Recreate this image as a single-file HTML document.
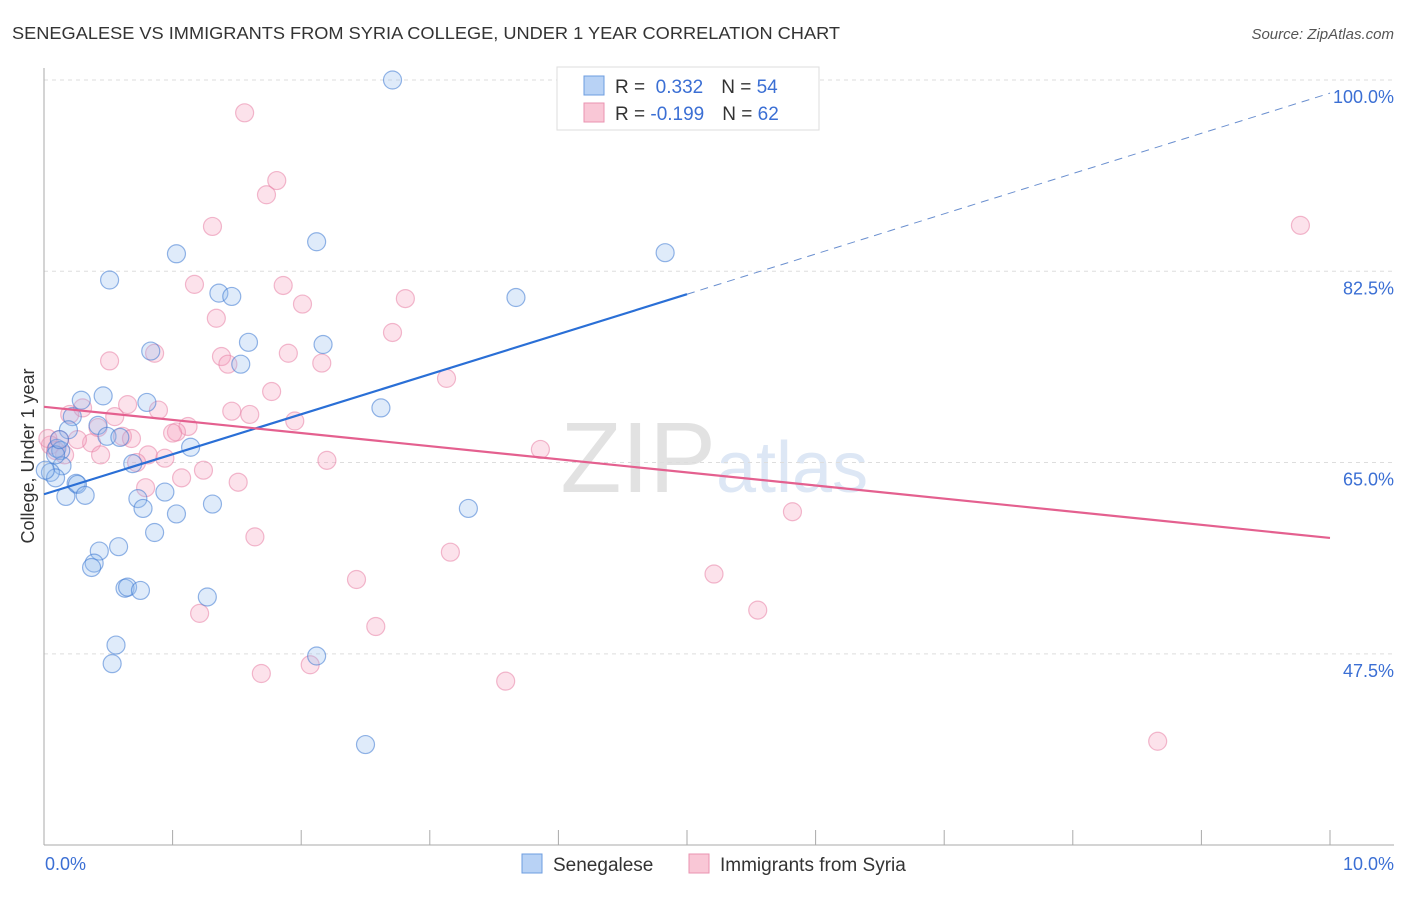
<!DOCTYPE html>
<html><head><meta charset="utf-8"><style>
body{margin:0;background:#fff;font-family:"Liberation Sans",sans-serif;}
svg text{font-family:"Liberation Sans",sans-serif;}
</style></head><body>
<svg width="1406" height="892" xmlns="http://www.w3.org/2000/svg">
<text x="12" y="39" font-size="17.5" fill="#333" textLength="828" lengthAdjust="spacingAndGlyphs">SENEGALESE VS IMMIGRANTS FROM SYRIA COLLEGE, UNDER 1 YEAR CORRELATION CHART</text>
<text x="1394" y="39" font-size="15" fill="#555" font-style="italic" text-anchor="end">Source: ZipAtlas.com</text>
<text x="716" y="492" font-size="100" fill="#e2e2e2" text-anchor="end" font-family="Liberation Serif">ZIP</text>
<text x="716" y="492" font-size="72" fill="#dde7f5">atlas</text>
<g id="grid"></g>
<g id="axes"></g>
<g id="pts"></g>
<g id="lines"></g>
<text transform="translate(34,456) rotate(-90)" font-size="18" fill="#333" text-anchor="middle">College, Under 1 year</text>
<text x="45" y="870" font-size="18" fill="#3b6fd4">0.0%</text>
<text x="1394" y="870" font-size="18" fill="#3b6fd4" text-anchor="end">10.0%</text>
<g>
<rect x="557" y="67" width="262" height="63" fill="#fff" stroke="#ddd"/>
<rect x="584" y="76" width="20" height="19" fill="#b8d2f5" stroke="#6d9de0"/>
<rect x="584" y="103" width="20" height="19" fill="#f9c7d6" stroke="#ea93b0"/>
<text x="615" y="93" font-size="19" fill="#333">R = <tspan fill="#3b6fd4">&#160;0.332</tspan><tspan dx="18">N = </tspan><tspan fill="#3b6fd4">54</tspan></text>
<text x="615" y="120" font-size="19" fill="#333">R = <tspan fill="#3b6fd4">-0.199</tspan><tspan dx="18">N = </tspan><tspan fill="#3b6fd4">62</tspan></text>
</g>
<g>
<rect x="522" y="854" width="20" height="19" fill="#b8d2f5" stroke="#6d9de0"/>
<text x="553" y="871" font-size="19" fill="#333">Senegalese</text>
<rect x="689" y="854" width="20" height="19" fill="#f9c7d6" stroke="#ea93b0"/>
<text x="720" y="871" font-size="19" fill="#333">Immigrants from Syria</text>
</g>
</svg>
<script>
const yTicks=[100,82.5,65,47.5];
const yTickLabels=["100.0%","82.5%","65.0%","47.5%"];
const xTicks=[0,1,2,3,4,5,6,7,8,9,10];
const blueX=[2.71,2.12,1.03,4.83,0.51,1.36,1.46,3.67,1.59,2.17,0.83,1.53,2.62,0.46,0.80,0.29,0.22,0.19,0.42,0.49,0.59,1.14,0.10,0.13,0.69,0.14,0.05,0.09,0.25,0.26,0.17,0.32,0.94,0.73,0.77,1.31,1.03,3.30,0.86,0.43,0.58,0.39,0.37,0.63,0.65,0.75,1.27,0.56,0.53,2.12,2.50,0.01,0.09,0.12];
const blueY=[100.0,85.2,84.1,84.2,81.7,80.5,80.2,80.1,76.0,75.8,75.2,74.0,70.0,71.1,70.5,70.7,69.2,68.0,68.4,67.4,67.3,66.4,66.3,66.1,64.9,64.7,64.1,63.6,63.1,63.0,61.9,62.0,62.3,61.7,60.8,61.2,60.3,60.8,58.6,56.9,57.3,55.8,55.4,53.5,53.6,53.3,52.7,48.3,46.6,47.3,39.2,64.3,65.7,67.1];
const pinkX=[1.56,1.81,1.73,1.31,1.17,1.86,2.01,2.81,1.34,2.71,0.51,0.86,1.38,1.90,1.43,2.16,3.13,1.77,0.20,0.30,0.65,0.89,0.55,1.46,1.60,1.95,1.12,0.42,1.03,1.00,0.61,0.68,0.37,0.12,0.05,0.16,0.09,0.81,0.72,0.94,1.24,1.07,1.51,0.79,3.86,2.20,5.82,1.64,3.16,2.43,5.21,5.55,2.58,1.21,1.69,2.07,3.59,8.66,9.77,0.26,0.03,0.44];
const pinkY=[97.0,90.8,89.5,86.6,81.3,81.2,79.5,80.0,78.2,76.9,74.3,75.0,74.7,75.0,74.0,74.1,72.7,71.5,69.4,70.0,70.3,69.8,69.2,69.7,69.4,68.8,68.3,68.2,67.8,67.7,67.4,67.2,66.8,67.1,66.6,65.7,66.1,65.7,65.0,65.4,64.3,63.6,63.2,62.7,66.2,65.2,60.5,58.2,56.8,54.3,54.8,51.5,50.0,51.2,45.7,46.5,45.0,39.5,86.7,67.1,67.2,65.7];
const blueFit=[62.1,80.4,98.8];
const pinkFit=[70.1,58.1];
const NS="http://www.w3.org/2000/svg";
const X=v=>44+v*128.6, Y=v=>80+(100-v)*10.93;
function mk(t,a,p){const e=document.createElementNS(NS,t);for(const k in a)e.setAttribute(k,a[k]);p.appendChild(e);return e;}
const grid=document.getElementById('grid');
yTicks.forEach((t,i)=>{
 const l=mk('line',{x1:44,x2:1394,y1:Y(t),y2:Y(t),stroke:'#ddd','stroke-dasharray':'4,4'},grid);
 
 
 const tx=mk('text',{x:1394,y:Y(t)+23,'font-size':18,fill:'#3b6fd4','text-anchor':'end'},grid);
 tx.textContent=yTickLabels[i];
 
 
});
const ax=document.getElementById('axes');
const a1=mk('line',{x1:44,x2:44,y1:68,y2:845,stroke:'#aaa'},ax);


const a2=mk('line',{x1:44,x2:1394,y1:845,y2:845,stroke:'#aaa'},ax);


xTicks.forEach(t=>{const l=mk('line',{x1:X(t),x2:X(t),y1:830,y2:845,stroke:'#aaa'},ax);
 
 });
const pts=document.getElementById('pts');
pinkX.forEach((x,i)=>{const c=mk('circle',{cx:X(x),cy:Y(pinkY[i]),r:9,fill:'rgba(244,160,188,0.3)',stroke:'rgba(232,130,165,0.55)','stroke-width':1.2},pts);
 
 });
blueX.forEach((x,i)=>{const c=mk('circle',{cx:X(x),cy:Y(blueY[i]),r:9,fill:'rgba(150,190,240,0.3)',stroke:'rgba(60,120,210,0.55)','stroke-width':1.2},pts);
 
 });
const ln=document.getElementById('lines');
const b1=mk('line',{x1:X(0),y1:Y(blueFit[0]),x2:X(5),y2:Y(blueFit[1]),stroke:'#2a6fd6','stroke-width':2.2},ln);


const b2=mk('line',{x1:X(5),y1:Y(blueFit[1]),x2:X(10),y2:Y(blueFit[2]),stroke:'#6a8fcf','stroke-width':1,'stroke-dasharray':'8,6'},ln);


const p1=mk('line',{x1:X(0),y1:Y(pinkFit[0]),x2:X(10),y2:Y(pinkFit[1]),stroke:'#e4608f','stroke-width':2.2},ln);


</script>
</body></html>
